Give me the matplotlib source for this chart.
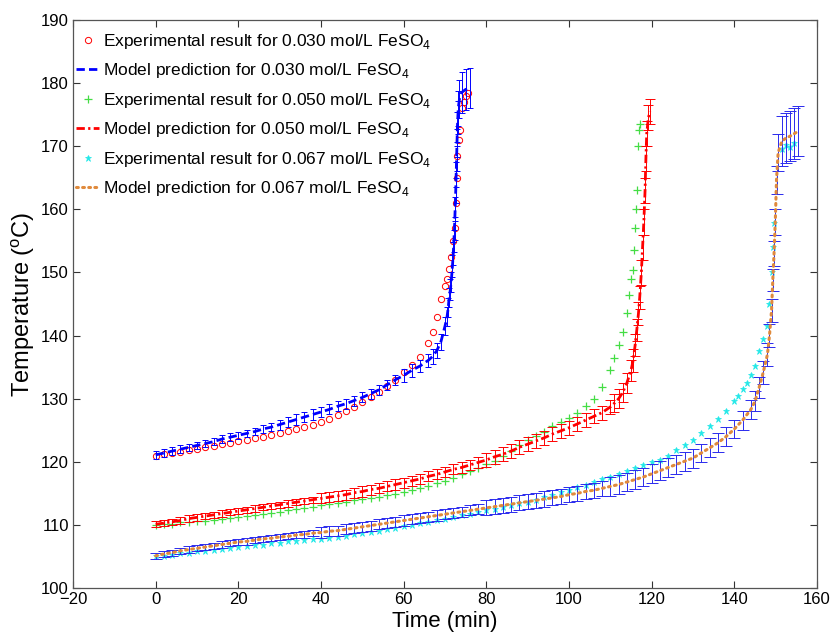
import matplotlib.pyplot as plt

plt.rcParams['font.family'] = ['Liberation Sans', 'DejaVu Sans']
plt.rcParams['mathtext.fontset'] = 'custom'
plt.rcParams['mathtext.rm'] = 'Liberation Sans'

# ---- 0.030 mol/L FeSO4 ----
t1_exp = [0, 2, 4, 6, 8, 10, 12, 14, 16, 18, 20, 22, 24, 26, 28, 30, 32, 34, 36, 38,
          40, 42, 44, 46, 48, 50, 52, 54, 56, 58, 60, 62, 64,
          66, 67, 68, 69, 70, 70.5, 71, 71.5, 72, 72.3, 72.6, 72.8, 73, 73.3, 73.6, 74, 74.5, 75, 75.5]
T1_exp = [121.0, 121.2, 121.4, 121.6, 121.9, 122.1, 122.3, 122.5, 122.8, 123.0,
          123.3, 123.5, 123.8, 124.0, 124.3, 124.6, 124.9, 125.2, 125.5, 125.9,
          126.3, 126.8, 127.4, 128.0, 128.7, 129.5, 130.3, 131.1, 132.0, 133.0,
          134.2, 135.4, 136.6,
          138.8, 140.6, 143.0, 145.8, 147.8, 149.0, 150.5, 152.5, 155.0, 157.0, 161.0, 165.0,
          168.5, 171.0, 172.5, 176.0, 177.0, 178.0, 178.5]

t1_model = [0, 2, 4, 6, 8, 10, 12, 14, 16, 18, 20, 22, 24, 26, 28, 30, 32, 34, 36, 38,
            40, 42, 44, 46, 48, 50, 52, 54, 56, 58, 60, 62, 64, 66,
            67, 68, 69, 70, 70.5, 70.8, 71, 71.3, 71.5, 71.8, 72, 72.15, 72.3, 72.45, 72.6,
            72.7, 72.8, 72.9, 73.0, 73.1, 73.2, 73.5, 74, 75, 76]
T1_model = [121.1, 121.4, 121.7, 122.0, 122.3, 122.6, 122.9, 123.2, 123.6, 123.9,
            124.2, 124.5, 124.8, 125.2, 125.5, 125.9, 126.3, 126.7, 127.1, 127.5,
            127.9, 128.3, 128.8, 129.2, 129.7, 130.2, 130.8, 131.4, 132.2, 133.0,
            133.7, 134.5, 135.2, 136.1,
            136.7, 137.6, 139.0, 141.5, 143.0, 144.5, 146.0, 147.3, 148.5, 151.0, 153.0,
            155.0, 157.0, 160.0, 163.0, 165.5, 168.0, 170.5, 173.0, 174.5, 176.0, 177.5,
            178.5, 179.0, 179.2]
err1_model = ([0.6] * 15 + [0.8] * 15 + [1.0] * 4 +
              [1.2, 1.2, 1.3, 1.4, 1.5, 1.5, 1.5, 1.6, 1.6, 1.7, 1.8, 1.8, 1.8, 1.9, 2.0,
               2.0, 2.0, 2.2, 2.4, 2.6, 2.8, 3.0, 3.2, 3.2, 3.2])

# ---- 0.050 mol/L FeSO4 ----
t2_exp = list(range(0, 107, 2)) + [108, 110, 111, 112, 113, 114, 114.6, 115.0, 115.4,
                                   115.7, 116.0, 116.2, 116.4, 116.7, 117.0, 117.2]
T2_exp = [110.0, 110.1, 110.2, 110.4, 110.5, 110.6, 110.7, 110.8, 111.0, 111.1,
          111.3, 111.4, 111.6, 111.8, 111.9, 112.1, 112.3, 112.5, 112.7, 112.9,
          113.1, 113.3, 113.5, 113.7, 113.9, 114.1, 114.3, 114.5, 114.7, 114.9,
          115.2, 115.5, 115.8, 116.2, 116.6, 117.0, 117.5, 118.0, 118.5, 119.0,
          119.6, 120.2, 120.9, 121.7, 122.6, 123.4, 124.1, 124.8, 125.6, 126.3,
          126.9, 127.8, 128.8, 129.9,
          131.8, 134.6, 136.5, 138.5, 140.5, 143.6, 146.5, 149.0, 150.4, 153.5,
          157.0, 160.0, 163.0, 170.0, 172.6, 173.5]

t2_model = list(range(0, 111, 2)) + [111, 112, 113, 114, 115, 115.5, 116, 116.4, 116.8,
                                     117.1, 117.5, 117.8, 118.1, 118.4, 118.6, 118.8,
                                     119.2, 119.6]
T2_model = [110.1, 110.3, 110.5, 110.7, 111.0, 111.2, 111.4, 111.6, 111.8, 112.0,
            112.2, 112.4, 112.6, 112.8, 113.0, 113.2, 113.4, 113.6, 113.8, 114.0,
            114.2, 114.4, 114.6, 114.8, 115.1, 115.3, 115.6, 115.8, 116.1, 116.4,
            116.7, 117.0, 117.3, 117.7, 118.0, 118.4, 118.8, 119.1, 119.5, 119.9,
            120.3, 120.8, 121.2, 121.7, 122.3, 122.8, 123.3, 123.8, 124.4, 124.9,
            125.4, 126.0, 126.6, 127.2, 127.8, 128.7,
            129.3, 130.0, 131.0, 132.5, 134.5, 136.0, 138.5, 140.9, 143.5, 146.0,
            150.0, 154.0, 158.0, 163.0, 168.0, 172.0, 174.5, 175.5]
err2_model = ([0.5] * 20 + [0.8] * 20 + [1.1] * 16 +
              [1.4, 1.5, 1.5, 1.6, 1.7, 1.8, 1.8, 1.8, 1.8, 1.8, 2.0, 2.0, 2.0, 2.0,
               2.0, 2.0, 2.0, 2.0])

# ---- 0.067 mol/L FeSO4 ----
t3_exp = list(range(0, 141, 2)) + [141, 142, 143, 144, 145, 146, 147, 148, 148.5, 149,
                                   149.3, 149.5, 151.5, 152.5, 153.5, 154.5]
T3_exp = [105.0, 105.1, 105.3, 105.5, 105.6, 105.8, 105.9, 106.1, 106.2, 106.3,
          106.5, 106.6, 106.8, 106.9, 107.1, 107.2, 107.4, 107.5, 107.6, 107.7,
          107.8, 107.9, 108.1, 108.3, 108.5, 108.7, 108.9, 109.1, 109.3, 109.5,
          109.8, 110.0, 110.3, 110.5, 110.8, 111.0, 111.3, 111.5, 111.8, 112.0,
          112.3, 112.5, 112.8, 113.1, 113.4, 113.7, 114.0, 114.4, 114.8, 115.2,
          115.6, 116.0, 116.4, 116.8, 117.2, 117.6, 118.1, 118.5, 119.0, 119.5,
          119.9, 120.3, 121.0, 121.8, 122.6, 123.5, 124.5, 125.6, 126.8, 128.0,
          129.6,
          130.5, 131.5, 132.5, 133.7, 135.2, 137.5, 139.5, 141.5, 145.0, 150.0,
          154.0, 157.8, 169.5, 170.2, 169.8, 170.5]

t3_model = list(range(0, 145, 2)) + [145, 146, 147, 148, 148.5, 149, 149.3, 149.6, 149.9,
                                     150.2, 150.6, 151.5, 152.5, 153.5, 154.5, 155.5]
T3_model = [105.1, 105.4, 105.6, 105.9, 106.1, 106.3, 106.5, 106.7, 106.9, 107.1,
            107.3, 107.4, 107.6, 107.8, 107.9, 108.1, 108.2, 108.4, 108.5, 108.7,
            108.8, 109.0, 109.1, 109.3, 109.5, 109.7, 109.9, 110.1, 110.3, 110.5,
            110.7, 110.9, 111.1, 111.3, 111.5, 111.7, 111.9, 112.1, 112.3, 112.5,
            112.7, 112.9, 113.1, 113.3, 113.5, 113.7, 113.9, 114.1, 114.3, 114.5,
            114.8, 115.0, 115.3, 115.5, 115.8, 116.1, 116.4, 116.8, 117.2, 117.6,
            118.1, 118.6, 119.1, 119.6, 120.1, 120.6, 121.4, 122.2, 123.0, 124.0,
            125.2, 126.6, 128.3,
            129.6, 131.8, 134.2, 137.0, 140.0, 144.0, 148.8, 153.0, 158.0, 164.7,
            169.0, 170.8, 171.3, 171.6, 172.0, 172.4]
err3_model = ([0.5] * 20 + [0.8] * 20 + [1.2] * 15 + [1.5] * 18 +
              [1.6, 1.7, 1.8, 1.8, 1.8, 1.8, 1.8, 2.0, 2.0, 2.2, 3.0, 4.0, 4.0, 4.0,
               4.0, 4.0])

labels = ['Experimental result for 0.030 mol/L FeSO$_\\mathregular{4}$',
          'Model prediction for 0.030 mol/L FeSO$_\\mathregular{4}$',
          'Experimental result for 0.050 mol/L FeSO$_\\mathregular{4}$',
          'Model prediction for 0.050 mol/L FeSO$_\\mathregular{4}$',
          'Experimental result for 0.067 mol/L FeSO$_\\mathregular{4}$',
          'Model prediction for 0.067 mol/L FeSO$_\\mathregular{4}$']

orange = '#e08a3c'
green = '#44dd44'
cyan = '#22e8e8'

fig = plt.figure(figsize=(8.36, 6.33), dpi=100)
ax = fig.add_axes([0.0873, 0.071, 0.89, 0.8974])

handles = []

# 0.030
h, = ax.plot(t1_exp, T1_exp, 'o', ms=4.5, mfc='none', mec='red', mew=0.7, label=labels[0])
handles.append(h)
ax.errorbar(t1_model, T1_model, yerr=err1_model, fmt='none', ecolor='blue',
            elinewidth=0.7, capsize=2.2, capthick=0.7)
h, = ax.plot(t1_model, T1_model, color='blue', lw=2.0, ls=(0, (3, 1.5)), label=labels[1])
handles.append(h)

# 0.050
h, = ax.plot(t2_exp, T2_exp, '+', ms=5.5, color=green, mew=0.9, label=labels[2])
handles.append(h)
ax.errorbar(t2_model, T2_model, yerr=err2_model, fmt='none', ecolor='red',
            elinewidth=0.7, capsize=3.5, capthick=0.7)
h, = ax.plot(t2_model, T2_model, color='red', lw=2.0, ls=(0, (3, 1.2, 0.8, 1.2)), label=labels[3])
handles.append(h)

# 0.067
h, = ax.plot(t3_exp, T3_exp, '*', ms=4.5, color=cyan, mew=0.5, label=labels[4])
handles.append(h)
ax.errorbar(t3_model, T3_model, yerr=err3_model, fmt='none', ecolor='#2a2aee',
            elinewidth=0.7, capsize=4.5, capthick=0.7)
h, = ax.plot(t3_model, T3_model, color=orange, lw=2.2, ls=(0, (0.6, 1.4)),
             dash_capstyle='round', label=labels[5])
handles.append(h)

ax.set_xlim(-20, 160)
ax.set_ylim(100, 190)
ax.set_xticks(range(-20, 161, 20))
ax.set_yticks(range(100, 191, 10))
ax.tick_params(direction='in', top=True, right=True, length=5, width=0.8,
               labelsize=12, pad=3, color='#333333')
for s in ax.spines.values():
    s.set_color('#555555')
    s.set_linewidth(0.9)

ax.set_xlabel('Time (min)', fontsize=16, labelpad=3)
ax.set_ylabel('Temperature ($^\\mathregular{o}$C)', fontsize=17, labelpad=3)

ax.legend(handles=handles, loc='upper left', bbox_to_anchor=(0.0, 0.985),
          frameon=False, fontsize=12.5, handlelength=1.3, handletextpad=0.25,
          borderaxespad=0.1, borderpad=0.1, labelspacing=0.6)

fig.savefig('out.png', dpi=100)
